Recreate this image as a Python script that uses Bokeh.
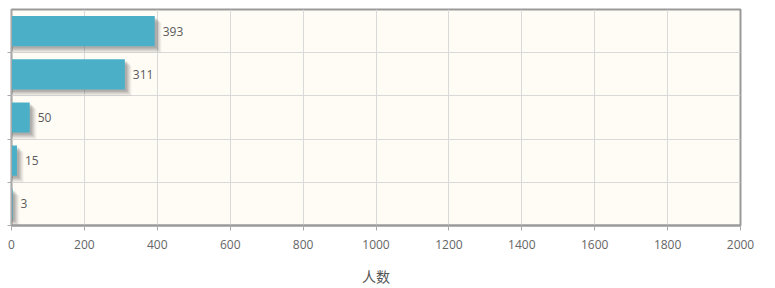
from bokeh.plotting import figure
from bokeh.models import ColumnDataSource, Range1d, FixedTicker
from bokeh.embed import file_html
from bokeh.resources import INLINE
from bokeh.core.properties import value

# data (top to bottom)
values = [393, 311, 50, 15, 3]
positions = [0, 1, 2, 3, 4]
labels = [str(v) for v in values]
x_ticks = [0, 200, 400, 600, 800, 1000, 1200, 1400, 1600, 1800, 2000]
x_title = "人数"

px_x = 2000 / 729.0   # data units per pixel in x
px_y = 1 / 44.0       # data units per pixel in y

src = ColumnDataSource(dict(y=positions, v=values, t=labels))

p = figure(width=775, height=288, output_backend="svg", toolbar_location=None,
           x_range=Range1d(0, 2000), y_range=Range1d(4.5, -0.5),
           min_border_left=11, min_border_right=35, min_border_top=9, min_border_bottom=57,
           background_fill_color="#fffcf5", border_fill_color="white")

# soft shadow layers
for k, a in [(7, 0.04), (6, 0.06), (5, 0.08), (4, 0.10), (3, 0.11), (2, 0.12)]:
    sh = ColumnDataSource(dict(y=[y + k * px_y for y in positions],
                               v=[v + k * px_x for v in values]))
    p.hbar(y="y", left=0, right="v", height=0.7, source=sh,
           fill_color="#444444", fill_alpha=a, line_color=None)

p.hbar(y="y", left=0, right="v", height=0.7, source=src,
       fill_color="#4bb0c7", line_color=None)

p.text(x="v", y="y", text="t", source=src, x_offset=8, text_baseline="middle",
       text_align="left", text_font=value("Open Sans"), text_font_size="12px",
       text_color="#5a5a5a")

# grid
p.xgrid.ticker = FixedTicker(ticks=x_ticks)
p.ygrid.ticker = FixedTicker(ticks=[-0.5, 0.5, 1.5, 2.5, 3.5, 4.5])
p.xgrid.grid_line_color = "#d9d9d9"
p.ygrid.grid_line_color = "#d9d9d9"

# x axis
p.xaxis.ticker = FixedTicker(ticks=x_ticks)
p.xaxis.axis_line_color = "#9a9a9a"
p.xaxis.axis_line_width = 2
p.xaxis.major_tick_line_color = "#aaaaaa"
p.xaxis.major_tick_out = 5
p.xaxis.major_tick_in = 0
p.xaxis.minor_tick_line_color = None
p.xaxis.major_label_text_font = "Open Sans"
p.xaxis.major_label_text_font_size = "12px"
p.xaxis.major_label_text_color = "#666666"
p.xaxis.major_label_text_align = "left"
p.xaxis.major_label_standoff = 9
p.xaxis.axis_label = x_title
p.xaxis.axis_label_text_font = "Noto Sans CJK SC"
p.xaxis.axis_label_text_font_style = "normal"
p.xaxis.axis_label_text_font_size = "14px"
p.xaxis.axis_label_text_color = "#555555"
p.xaxis.axis_label_standoff = 14

# y axis (no labels)
y_ticks = [0.5, 1.5, 2.5, 3.5, 4.5]
p.yaxis.ticker = FixedTicker(ticks=y_ticks)
p.yaxis.major_label_overrides = {t: "" for t in y_ticks}
p.yaxis.axis_line_color = "#aaaaaa"
p.yaxis.major_tick_line_color = "#aaaaaa"
p.yaxis.major_tick_out = 4
p.yaxis.major_tick_in = 0
p.yaxis.minor_tick_line_color = None
p.yaxis.major_label_standoff = 0

p.outline_line_color = "#9a9a9a"
p.outline_line_width = 2

open("out.html", "w").write(file_html(p, INLINE))
